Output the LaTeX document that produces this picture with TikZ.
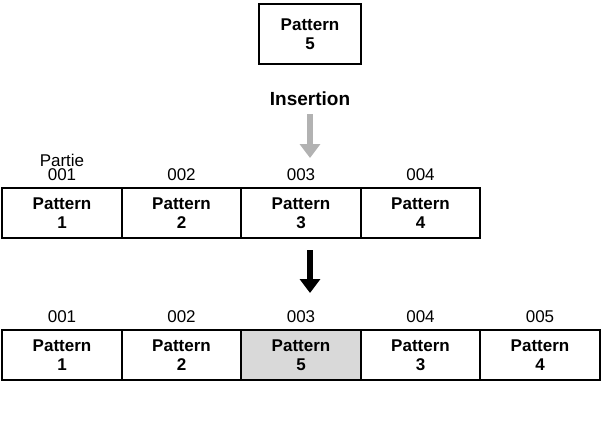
\documentclass[tikz,border=0pt]{standalone}
\usepackage{fontspec}
\setmainfont{Liberation Sans}
\usetikzlibrary{positioning,arrows.meta}
\begin{document}
\begin{tikzpicture}[x=1pt,y=-1pt]
        \tikzstyle{pattern}=[draw=black,line width=1.6pt,minimum width=119.5pt,minimum height=50pt,inner sep=0pt,align=center,font=\fontsize{17}{19}\selectfont\bfseries]
        \tikzstyle{partie}=[font=\fontsize{17}{19}\selectfont,inner sep=1pt]
        \tikzstyle{bigarrow}=[line width=6pt,-{Triangle[length=14pt,width=20pt]}]
        \useasboundingbox (0,0) rectangle (609,426);
        % new pattern
        \node [pattern,minimum width=102pt,minimum height=60pt] (new) at (310,34) {Pattern\\5};
        \node [font=\fontsize{19}{21}\selectfont\bfseries] (ins) at (310,99) {Insertion};
        \coordinate (g1) at (310,114);
        \coordinate (g2) at (310,158);
        \draw [bigarrow,draw=black!30,fill=black!30] (g1) -- (g2);
        % before
        \foreach \i/\lab in {1/001,2/002,3/003,4/004}{
          \node [partie] (na\i) at (-57.5+119.5*\i,175) {\lab};
          \node [pattern] (a\i) at (-57.5+119.5*\i,213) {Pattern\\\i};
        }
        \node [partie,above=0pt of na1] (part) {Partie};
        % after
        \coordinate (b1) at (310,250);
        \coordinate (b2) at (310,293);
        \draw [bigarrow] (b1) -- (b2);
        \foreach \i/\p/\lab in {1/1/001,2/2/002,3/5/003,4/3/004,5/4/005}{
          \node [partie] (nc\i) at (-57.5+119.5*\i,317) {\lab};
          \node [pattern] (c\i) at (-57.5+119.5*\i,355) {Pattern\\\p};
        }
        \node [pattern,fill=black!15] at (c3) {Pattern\\5};
\end{tikzpicture}
\end{document}
